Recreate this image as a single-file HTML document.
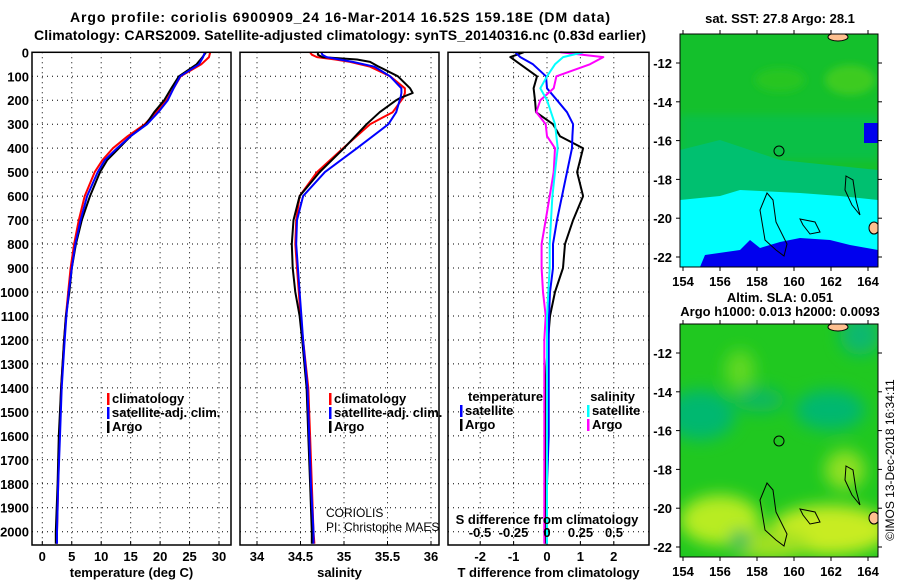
<!DOCTYPE html>
<html><head><meta charset="utf-8"><style>
body{margin:0;background:#fff;}
svg{display:block;font-family:"Liberation Sans",sans-serif;}
.t{font-weight:bold;font-size:13px;}
</style></head><body>
<svg id="c" width="900" height="580" viewBox="0 0 900 580" xmlns="http://www.w3.org/2000/svg">
<defs>
<filter id="bl" x="-20%" y="-20%" width="140%" height="140%"><feGaussianBlur stdDeviation="8"/></filter>
<filter id="bl2" x="-20%" y="-20%" width="140%" height="140%"><feGaussianBlur stdDeviation="4"/></filter>
<clipPath id="cm1"><rect x="680" y="34" width="198" height="233"/></clipPath>
<clipPath id="cm2"><rect x="680" y="324" width="198" height="233"/></clipPath>
</defs>
<text x="340" y="22" text-anchor="middle" font-weight="bold" font-size="14" textLength="540">Argo profile: coriolis 6900909_24 16-Mar-2014 16.52S 159.18E (DM data)</text>
<text x="340" y="40" text-anchor="middle" font-weight="bold" font-size="14" textLength="612">Climatology: CARS2009. Satellite-adjusted climatology: synTS_20140316.nc (0.83d earlier)</text>

<!-- top map -->
<g clip-path="url(#cm1)">
<rect x="680" y="34" width="198" height="233" fill="#14c02c"/>
<g filter="url(#bl2)">
<rect x="680" y="115" width="198" height="45" fill="#00c060" opacity="0.5"/>
<ellipse cx="850" cy="80" rx="25" ry="15" fill="#50d020" opacity="0.7"/>
<ellipse cx="780" cy="80" rx="25" ry="12" fill="#30c820" opacity="0.7"/>
</g>
<polygon points="680,150 720,140 780,160 878,170 878,267 680,267" fill="#00c070"/>
<polygon points="680,200 720,196 740,190 800,193 840,196 878,200 878,267 680,267" fill="#00ffff"/>
<polygon points="700,267 705,255 740,250 750,240 760,248 780,242 800,238 830,240 850,245 878,250 878,267" fill="#0000ee"/>
<rect x="864" y="123" width="14" height="20" fill="#0000ee"/>
<circle cx="779" cy="151" r="5" fill="none" stroke="#000"/>
<path d="M767,193 L773,200 L776,222 L787,244 L784,256 L776,250 L765,240 L760,210 Z" fill="none" stroke="#000" stroke-width="1"/>
<path d="M846,176 L853,180 L856,200 L860,215 L852,205 L845,190 Z" fill="none" stroke="#000" stroke-width="1"/>
<path d="M800,219 L815,222 L820,232 L810,234 L803,225 Z" fill="none" stroke="#000" stroke-width="1"/>
<ellipse cx="838" cy="37" rx="10" ry="4" fill="#ffc090" stroke="#000"/>
<ellipse cx="874" cy="228" rx="5" ry="6" fill="#ffc090" stroke="#000"/>
</g>
<rect x="680" y="34" width="198" height="233" fill="none" stroke="#000"/>
<text x="780" y="23" text-anchor="middle" class="t">sat. SST: 27.8 Argo: 28.1</text>

<!-- bottom map -->
<g clip-path="url(#cm2)">
<rect x="680" y="324" width="198" height="233" fill="#20c820"/>
<g filter="url(#bl)">
<ellipse cx="700" cy="415" rx="35" ry="25" fill="#00b870"/>
<ellipse cx="830" cy="410" rx="35" ry="20" fill="#00b870"/>
<ellipse cx="760" cy="400" rx="25" ry="12" fill="#10b860"/>
<ellipse cx="860" cy="335" rx="20" ry="20" fill="#10b870"/>
<ellipse cx="740" cy="370" rx="15" ry="20" fill="#60d820"/>
<ellipse cx="720" cy="520" rx="40" ry="25" fill="#b8ec20"/>
<ellipse cx="830" cy="530" rx="60" ry="25" fill="#c8ec20"/>
<ellipse cx="845" cy="470" rx="20" ry="20" fill="#90e020"/>
<ellipse cx="770" cy="545" rx="40" ry="15" fill="#a0e020"/>
<ellipse cx="740" cy="540" rx="10" ry="10" fill="#00b860"/>
</g>
<circle cx="779" cy="441" r="5" fill="none" stroke="#000"/>
<path d="M767,483 L773,490 L776,512 L787,534 L784,546 L776,540 L765,530 L760,500 Z" fill="none" stroke="#000" stroke-width="1"/>
<path d="M846,466 L853,470 L856,490 L860,505 L852,495 L845,480 Z" fill="none" stroke="#000" stroke-width="1"/>
<path d="M800,509 L815,512 L820,522 L810,524 L803,515 Z" fill="none" stroke="#000" stroke-width="1"/>
<ellipse cx="838" cy="327" rx="10" ry="4" fill="#ffc090" stroke="#000"/>
<ellipse cx="874" cy="518" rx="5" ry="6" fill="#ffc090" stroke="#000"/>
</g>
<rect x="680" y="324" width="198" height="233" fill="none" stroke="#000"/>
<text x="780" y="302" text-anchor="middle" class="t">Altim. SLA: 0.051</text>
<text x="780" y="316" text-anchor="middle" class="t">Argo h1000: 0.013 h2000: 0.0093</text>
<text transform="translate(894,460) rotate(-90)" text-anchor="middle" font-size="12">©IMOS 13-Dec-2018 16:34:11</text>
<g id="mapaxes"></g>
<g id="plots"></g>
</svg>
<script>
// ---- data ----
const tDepths = [0,20,50,100,150,200,250,300,350,400,450,500,600,700,800,900,1000,1100,1200,1400,1600,1800,2000,2050];
const tClim = [28.5,28.3,27,23.5,22.3,21.1,19.3,17.4,14.5,12,10.2,8.9,7.2,6.2,5.4,4.8,4.4,4.0,3.7,3.2,2.9,2.7,2.5,2.5];
const tSat  = [27.6,27.3,26.6,23.4,22.3,21.3,19.7,17.8,15.0,12.7,10.6,9.4,7.6,6.5,5.6,5.0,4.5,4.1,3.8,3.3,3.0,2.7,2.5,2.5];
const tArgo = [27.8,27.2,26.2,23.2,21.9,20.7,19.0,17.6,15.0,13.0,11.0,9.8,8.1,6.7,5.7,5.0,4.6,4.0,3.7,3.2,2.8,2.6,2.3,2.3];
const sDepths = [0,10,20,30,40,60,100,150,170,190,200,250,300,400,500,600,700,800,900,1000,1100,1200,1400,1600,1800,2000,2050];
const sClim = [34.61,34.63,34.69,34.9,35.07,35.3,35.53,35.70,35.70,35.68,35.66,35.56,35.30,34.99,34.69,34.49,34.45,34.44,34.46,34.48,34.50,34.53,34.59,34.61,34.63,34.65,34.66];
const sSat  = [34.74,34.75,34.8,34.95,35.1,35.35,35.53,35.66,35.66,35.65,35.64,35.60,35.51,35.15,34.78,34.53,34.46,34.45,34.47,34.49,34.51,34.53,34.58,34.60,34.62,34.65,34.65];
const sArgo = [34.7,34.7,34.75,35.15,35.3,35.4,35.62,35.76,35.79,35.65,35.60,35.41,35.26,35.0,34.72,34.49,34.42,34.40,34.41,34.44,34.49,34.52,34.57,34.59,34.61,34.63,34.63];
const dDepths = [0,20,50,100,150,200,250,300,350,400,500,600,700,800,900,1000,1100,1200,1400,1600,1800,2000,2050];
const dTArgo = [-0.7,-1.1,-0.8,-0.3,-0.4,-0.36,-0.33,0.18,0.39,1.08,0.9,1.08,0.78,0.54,0.48,0.24,0.09,0.03,-0.05,-0.05,-0.05,-0.05,-0.05];
const dTSat  = [-0.95,-0.8,-0.42,-0.03,0,0.3,0.6,0.78,0.76,0.75,0.6,0.45,0.3,0.18,0.18,0.09,0.06,0.05,0.05,0.05,0,0,0];
const dSArgo = [0.1,0.42,0.32,0.07,0.05,-0.05,-0.08,-0.01,0,0.06,0.05,0.02,-0.01,-0.04,-0.04,-0.03,-0.01,-0.02,-0.02,-0.02,-0.02,-0.02,-0.02];
const dSSat  = [0.27,0.12,0.06,0,-0.05,0,0.03,0.06,0.07,0.08,0.06,0.04,0.03,0.02,0.02,0.01,0,0,0,0,0,0,0];
const depthTicks = [0,100,200,300,400,500,600,700,800,900,1000,1100,1200,1300,1400,1500,1600,1700,1800,1900,2000];
const tTicks = [0,5,10,15,20,25,30];
const sTicks = [34,34.5,35,35.5,36];
const dTTicks = [-2,-1,0,1,2];
const dSTicks = [-0.5,-0.25,0,0.25,0.5];
const dSTickLabels = ['-0.5','-0.25','0','0.25','0.5'];
const lonTicks = [154,156,158,160,162,164];
const latTicks = [-12,-14,-16,-18,-20,-22];

const NS='http://www.w3.org/2000/svg';
const plots=document.getElementById('plots');
const TOP=52.3, BOT=545;
const yD = d => TOP + d*0.2397;
function el(tag, attrs, parent, txt){const e=document.createElementNS(NS,tag);for(const k in attrs)e.setAttribute(k,attrs[k]);if(txt!==undefined)e.textContent=txt;(parent||plots).appendChild(e);return e;}
function panel(name,L,R,xs,ticks,labels,title,leftLabels){
  const g=el('g',{});
  
  
  depthTicks.forEach(d=>{ if(d>0) el('line',{x1:L,x2:R,y1:yD(d),y2:yD(d),stroke:'#000','stroke-dasharray':'1,4'},g);
    if(leftLabels){const t=el('text',{x:L-3,y:yD(d)+5,'text-anchor':'end',class:'t'},g,String(d));
      
      }
  });
  ticks.forEach((v,i)=>{const x=xs(v);
    el('line',{x1:x,x2:x,y1:TOP,y2:BOT,stroke:'#000','stroke-dasharray':'1,4'},g);
    el('line',{x1:x,x2:x,y1:BOT,y2:BOT-4,stroke:'#000'},g);
    const t=el('text',{x:x,y:561,'text-anchor':'middle',class:'t'},g,labels?labels[i]:String(v));
    
    
  });
  const tt=el('text',{x:(L+R)/2,y:577,'text-anchor':'middle',class:'t'},g,title);
  
  
  return g;
}
function line(g,depths,vals,xs,color,w,name){
  const pts=depths.map((d,i)=>xs(vals[i]).toFixed(1)+','+yD(d).toFixed(1)).join(' ');
  const p=el('polyline',{points:pts,fill:'none',stroke:color,'stroke-width':w,'stroke-linejoin':'round'},g);
  
  
}
function frame(g,L,R){el('rect',{x:L,y:TOP,width:R-L,height:BOT-TOP,fill:'none',stroke:'#000','stroke-width':1.5},g);}
function legend(g,x,y,items){items.forEach((it,i)=>{
  el('rect',{x:x,y:y+i*14-10,width:2.5,height:12,fill:it[1]},g);
  const t=el('text',{x:x+5,y:y+i*14,class:'t'},g,it[0]);
  
  
});}

// Panel 1: temperature
const xT=v=>42.3+v*5.89;
let g1=panel('temperature-panel',32,231,xT,tTicks,null,'temperature (deg C)',true);
line(g1,tDepths,tClim,xT,'#ff0000',2,'temp-climatology-line');
line(g1,tDepths,tArgo,xT,'#000',2,'temp-argo-line');
line(g1,tDepths,tSat,xT,'#0000ff',2,'temp-satellite-line');
frame(g1,32,231);
legend(g1,107,403,[['climatology','#ff0000'],['satellite-adj. clim.','#0000ff'],['Argo','#000']]);

// Panel 2: salinity
const xS=v=>257+(v-34)*87;
let g2=panel('salinity-panel',240,439,xS,sTicks,null,'salinity',false);
line(g2,sDepths,sClim,xS,'#ff0000',2,'sal-climatology-line');
line(g2,sDepths,sArgo,xS,'#000',2,'sal-argo-line');
line(g2,sDepths,sSat,xS,'#0000ff',2,'sal-satellite-line');
frame(g2,240,439);
legend(g2,329,403,[['climatology','#ff0000'],['satellite-adj. clim.','#0000ff'],['Argo','#000']]);
el('text',{x:326,y:517,'font-size':12},g2,'CORIOLIS');
el('text',{x:326,y:531,'font-size':12},g2,'PI: Christophe MAES');

// Panel 3: differences
const xDT=v=>547+v*33.4;
const xDS=v=>547+v*134;
let g3=panel('difference-panel',448,649,xDT,dTTicks,null,'T difference from climatology',false);
line(g3,dDepths,dTArgo,xDT,'#000',2,'tdiff-argo-line');
line(g3,dDepths,dTSat,xDT,'#0000ff',2,'tdiff-satellite-line');
line(g3,dDepths,dSArgo,xDS,'#ff00ff',2,'sdiff-argo-line');
line(g3,dDepths,dSSat,xDS,'#00ffff',2,'sdiff-satellite-line');
frame(g3,448,649);
dSTicks.forEach((v,i)=>{const t=el('text',{x:xDS(v),y:537,'text-anchor':'middle',class:'t'},g3,dSTickLabels[i]);
  
  });
el('text',{x:547,y:524,'text-anchor':'middle',class:'t'},g3,'S difference from climatology');
el('text',{x:468,y:401,class:'t'},g3,'temperature');
legend(g3,460,415,[['satellite','#0000ff'],['Argo','#000']]);
el('text',{x:635,y:401,'text-anchor':'end',class:'t'},g3,'salinity');
legend(g3,587,415,[['satellite','#00ffff'],['Argo','#ff00ff']]);

// Map axes
const ma=document.getElementById('mapaxes');
const xLon=v=>683+(v-154)*18.5;
[[34,267],[324,557]].forEach(([t,b])=>{
  lonTicks.forEach(v=>{el('line',{x1:xLon(v),x2:xLon(v),y1:b,y2:b+4,stroke:'#000'},ma);el('line',{x1:xLon(v),x2:xLon(v),y1:t,y2:t-4,stroke:'#000'},ma);
    const tx=el('text',{x:xLon(v),y:b+19,'text-anchor':'middle',class:'t'},ma,String(v));
    
    });
  latTicks.forEach(v=>{const y=t+29+(-12-v)*19.4;
    el('line',{x1:676,x2:680,y1:y,y2:y,stroke:'#000'},ma);el('line',{x1:878,x2:882,y1:y,y2:y,stroke:'#000'},ma);
    const tx=el('text',{x:672,y:y+5,'text-anchor':'end',class:'t'},ma,String(v));
    
    });
});
</script>
</body></html>
